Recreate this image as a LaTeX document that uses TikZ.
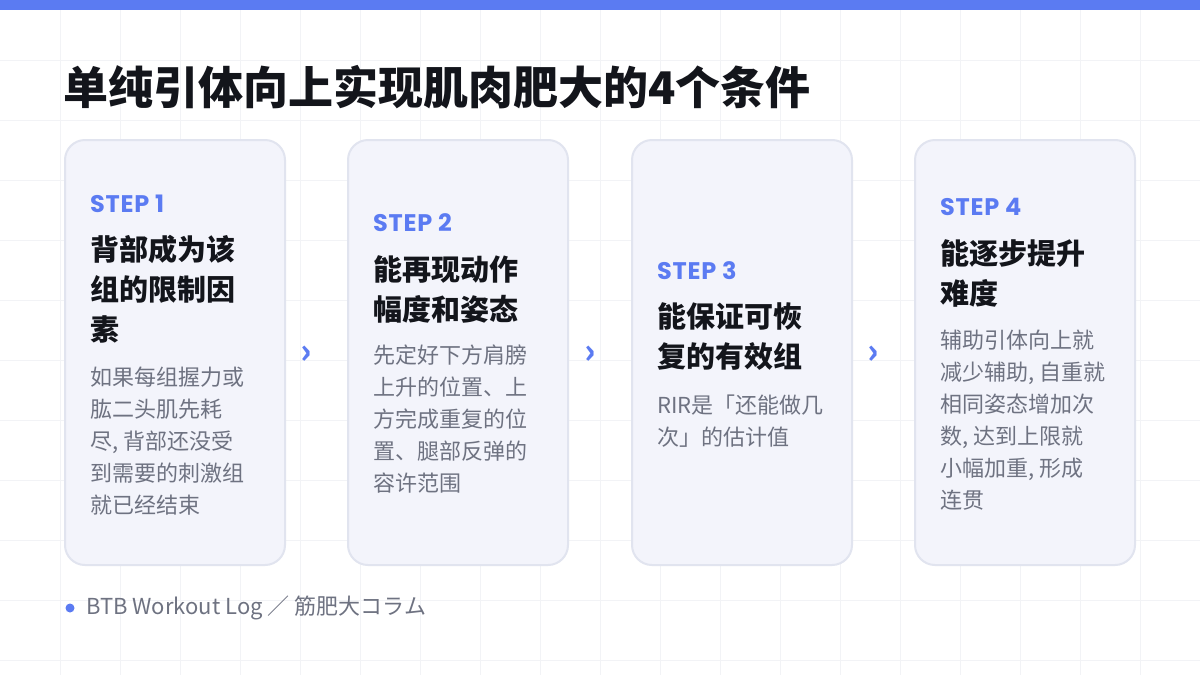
\documentclass[tikz,border=0pt]{standalone}
\usepackage{fontspec}
\setmainfont{Noto Sans CJK SC}
\newfontfamily\stepfont{Poppins}[BoldFont={* Bold}, LetterSpace=3]
\usetikzlibrary{positioning}
\definecolor{accent}{HTML}{5B7BF2}
\definecolor{cardfill}{HTML}{F3F4FB}
\definecolor{cardline}{HTML}{E1E4EF}
\definecolor{ink}{HTML}{13151B}
\definecolor{muted}{HTML}{6E7281}
\definecolor{gridc}{HTML}{F2F3F6}

\begin{document}
\begin{tikzpicture}[
    x=1pt, y=-1pt,
    card/.style={draw=cardline, line width=2pt, fill=cardfill, rounded corners=20pt},
    steplabel/.style={anchor=base west, inner sep=0pt, text=accent, font=\stepfont\bfseries\fontsize{24}{24}\selectfont},
    % multi-line nodes: base = baseline of the last line
    head/.style={anchor=base west, inner sep=0pt, text=ink, align=left, font=\bfseries\fontsize{29}{40}\selectfont},
    body/.style={anchor=base west, inner sep=0pt, text=muted, align=left, font=\fontsize{22}{32}\selectfont},
    chev/.style={text=accent, font=\bfseries\fontsize{34}{34}\selectfont, inner sep=0pt}
]
    \useasboundingbox (0,0) rectangle (1200,675);
    \fill[white] (0,0) rectangle (1200,675);
    % background grid
    \foreach \gx in {60,120,...,1180} \draw[gridc, line width=1pt] (\gx,10) -- (\gx,675);
    \foreach \gy in {60,120,...,660} \draw[gridc, line width=1pt] (0,\gy) -- (1200,\gy);
    \fill[accent] (0,0) rectangle (1200,10);

    \node[anchor=base west, inner sep=0pt, text=ink, font=\bfseries\fontsize{45}{45}\selectfont]
        (title) at (63,104) {单纯引体向上实现肌肉肥大的4个条件};

    % cards
    \draw[card] (65,140) rectangle (285,565);
    \draw[card] (348,140) rectangle (568,565);
    \draw[card] (632,140) rectangle (852,565);
    \draw[card] (915,140) rectangle (1135,565);

    \node[steplabel] (s1) at (90,212) {STEP 1};
    \node[head] (h1) at (90,340) {背部成为该\\组的限制因\\素};
    \node[body] (b1) at (90,513) {如果每组握力或\\肱二头肌先耗\\尽, 背部还没受\\到需要的刺激组\\就已经结束};

    \node[steplabel] (s2) at (373,231) {STEP 2};
    \node[head] (h2) at (373,320) {能再现动作\\幅度和姿态};
    \node[body] (b2) at (373,491) {先定好下方肩膀\\上升的位置、上\\方完成重复的位\\置、腿部反弹的\\容许范围};

    \node[steplabel] (s3) at (657,279) {STEP 3};
    \node[head] (h3) at (657,367) {能保证可恢\\复的有效组};
    \node[body] (b3) at (657,445) {RIR是「还能做几\\次」的估计值};

    \node[steplabel] (s4) at (940,215) {STEP 4};
    \node[head] (h4) at (940,304) {能逐步提升\\难度};
    \node[body] (b4) at (940,508) {辅助引体向上就\\减少辅助, 自重就\\相同姿态增加次\\数, 达到上限就\\小幅加重, 形成\\连贯};

    % chevrons between cards
    \node[chev] (a1) at (306,355) {›};
    \node[chev] (a2) at (590,355) {›};
    \node[chev] (a3) at (873,355) {›};

    % footer
    \fill[accent] (70,608) circle (4.5pt);
    \node[anchor=west, inner sep=0pt, text=muted, font=\fontsize{22}{22}\selectfont]
        (foot) at (86,608) {BTB Workout Log ／ 筋肥大コラム};
\end{tikzpicture}
\end{document}
